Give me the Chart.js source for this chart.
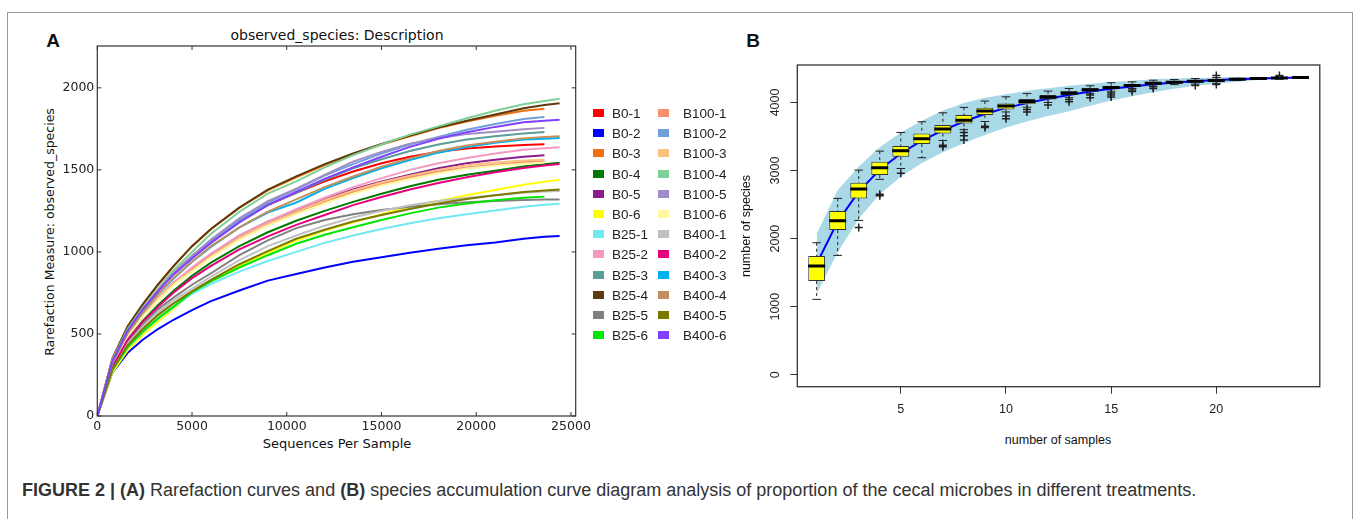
<!DOCTYPE html>
<html lang="en">
<head>
    <meta charset="UTF-8">
    <title>Rarefaction and species accumulation</title>
    <script src="https://cdn.jsdelivr.net/npm/chart.js"></script>
    <style>
        body { margin: 0; background: #fff; }
        .page { position: relative; width: 1358px; height: 519px; overflow: hidden; background: #fff; }
        .frame { position: absolute; left: 7px; top: 12px; width: 1344px; height: 520px; border: 1px solid #9a9a9a; }
        canvas { position: absolute; top: 0; }
        .txt { position: absolute; white-space: nowrap; color: #111; transform: translate(-50%, -50%); }
        .mpl { font-family: "DejaVu Sans", sans-serif; }
        .r { font-family: "Liberation Sans", Arial, sans-serif; }
        .panel { font-family: "Liberation Sans", Arial, sans-serif; font-weight: bold; font-size: 19px; }
        .legend { position: absolute; left: 0; top: 0; font-family: "Liberation Sans", Arial, sans-serif; font-size: 13.5px; color: #222; }
        .legend span.sw { position: absolute; width: 11px; height: 8px; }
        .legend span.lb { position: absolute; transform: translateY(-50%); white-space: nowrap; }
        .caption { position: absolute; left: 22px; top: 490px; transform: translateY(-50%);
                   font-family: "Liberation Sans", Arial, sans-serif; font-size: 18px; color: #333; white-space: nowrap; }
    </style>
</head>
<body>
<div class="page">
    <div class="frame"></div>

    <div class="txt panel" style="left:53px; top:41px;">A</div>
    <div class="txt mpl" style="left:337px; top:35px; font-size:14px;">observed_species: Description</div>
    <div class="txt mpl" style="left:337px; top:443px; font-size:13px;">Sequences Per Sample</div>
    <div class="txt mpl" style="left:49px; top:232px; font-size:12.5px; transform: translate(-50%,-50%) rotate(-90deg);">Rarefaction Measure: observed_species</div>
    <canvas id="chartA" width="740" height="460" style="left:0; width:740px; height:460px;"></canvas>
    <div class="legend" id="legendA"></div>

    <div class="txt panel" style="left:753px; top:41px;">B</div>
    <div class="txt r" style="left:1058px; top:440px; font-size:12.5px;">number of samples</div>
    <div class="txt r" style="left:746px; top:226px; font-size:12.5px; transform: translate(-50%,-50%) rotate(-90deg);">number of species</div>
    <canvas id="chartB" width="618" height="460" style="left:740px; width:618px; height:460px;"></canvas>

    <div class="caption"><b>FIGURE 2 | (A)</b> Rarefaction curves and <b>(B)</b> species accumulation curve diagram analysis of proportion of the cecal microbes in different treatments.</div>
</div>

<script>
// ---------- panel A: rarefaction curves ----------
const depthA = [0, 800, 1600, 2400, 3200, 4000, 5000, 6000, 7500, 9000, 10500, 12000, 13500, 15000, 16500, 18000, 19500, 21000, 22500, 23600, 24400];
const xTicksA = [0, 5000, 10000, 15000, 20000, 25000];
const yTicksA = [0, 500, 1000, 1500, 2000];

const sampleNames = ['B0-1', 'B0-2', 'B0-3', 'B0-4', 'B0-5', 'B0-6',
                     'B25-1', 'B25-2', 'B25-3', 'B25-4', 'B25-5', 'B25-6',
                     'B100-1', 'B100-2', 'B100-3', 'B100-4', 'B100-5', 'B100-6',
                     'B400-1', 'B400-2', 'B400-3', 'B400-4', 'B400-5', 'B400-6'];
const sampleColors = ['#ff0000', '#0000ff', '#f0700f', '#007a00', '#8b1a8b', '#ffff00',
                      '#70e8f2', '#f49ac2', '#5a9e9a', '#5e3a0c', '#808080', '#00e600',
                      '#f89070', '#70a0d8', '#fcc080', '#7fcf98', '#a08cc8', '#fff7a0',
                      '#c0c0c0', '#e6007e', '#00b0f0', '#c09060', '#7a7a00', '#8040ff'];

const b0_1   = [0, 330, 510, 640, 760, 865, 975, 1070, 1190, 1285, 1360, 1430, 1490, 1540, 1580, 1610, 1630, 1642, 1652, 1656, null];
const b0_2   = [0, 265, 385, 465, 530, 585, 645, 700, 765, 825, 865, 905, 940, 968, 995, 1020, 1040, 1058, 1080, 1092, 1097];
const b0_3   = [0, 352, 545, 680, 800, 910, 1035, 1140, 1270, 1375, 1455, 1530, 1595, 1655, 1705, 1755, 1795, 1830, 1860, 1872, null];
const b0_4   = [0, 300, 465, 580, 675, 760, 855, 935, 1035, 1120, 1190, 1250, 1305, 1355, 1400, 1440, 1470, 1495, 1520, 1535, 1544];
const b0_5   = [0, 310, 485, 610, 715, 810, 895, 985, 1100, 1185, 1250, 1320, 1380, 1430, 1470, 1510, 1540, 1562, 1580, 1589, null];
const b0_6   = [0, 265, 400, 495, 575, 650, 755, 825, 915, 995, 1070, 1130, 1180, 1230, 1275, 1310, 1345, 1378, 1410, 1428, 1440];
const b25_1  = [0, 280, 415, 510, 590, 660, 745, 805, 880, 945, 1000, 1055, 1100, 1140, 1175, 1205, 1230, 1252, 1275, 1287, 1294];
const b25_2  = [0, 315, 490, 615, 720, 810, 905, 990, 1100, 1185, 1260, 1330, 1395, 1450, 1500, 1540, 1572, 1600, 1622, 1632, 1638];
const b25_3  = [0, 335, 520, 650, 765, 865, 965, 1060, 1185, 1290, 1360, 1440, 1510, 1565, 1615, 1655, 1685, 1705, 1722, 1731, null];
const b25_4  = [0, 350, 545, 680, 800, 910, 1035, 1140, 1270, 1380, 1460, 1535, 1600, 1658, 1710, 1758, 1800, 1838, 1875, 1895, 1906];
const b25_5  = [0, 300, 450, 560, 650, 720, 800, 870, 980, 1070, 1145, 1195, 1230, 1255, 1275, 1290, 1302, 1310, 1316, 1319, 1320];
const b25_6  = [0, 280, 420, 515, 595, 665, 755, 820, 905, 980, 1050, 1105, 1150, 1195, 1235, 1270, 1295, 1315, 1330, 1337, null];
const b100_1 = [0, 315, 490, 610, 710, 800, 890, 975, 1085, 1170, 1240, 1305, 1365, 1415, 1455, 1490, 1515, 1532, 1546, 1552, null];
const b100_2 = [0, 335, 520, 650, 765, 870, 970, 1070, 1195, 1300, 1380, 1465, 1535, 1600, 1655, 1700, 1745, 1780, 1810, 1823, null];
const b100_3 = [0, 315, 492, 615, 715, 805, 890, 975, 1085, 1170, 1245, 1315, 1375, 1425, 1465, 1500, 1528, 1545, 1557, 1562, null];
const b100_4 = [0, 345, 530, 660, 775, 885, 1000, 1110, 1245, 1355, 1430, 1515, 1590, 1655, 1715, 1765, 1815, 1860, 1900, 1920, 1933];
const b100_5 = [0, 335, 520, 650, 765, 870, 975, 1075, 1205, 1310, 1385, 1470, 1550, 1610, 1660, 1695, 1718, 1733, 1748, 1756, null];
const b100_6 = [0, 310, 485, 605, 705, 795, 880, 965, 1075, 1160, 1230, 1295, 1355, 1405, 1445, 1480, 1508, 1525, 1538, 1545, null];
const b400_1 = [0, 290, 440, 545, 630, 705, 775, 850, 950, 1035, 1100, 1160, 1210, 1250, 1285, 1310, 1330, 1345, 1360, 1368, 1372];
const b400_2 = [0, 300, 465, 575, 665, 750, 840, 915, 1015, 1095, 1165, 1225, 1285, 1335, 1380, 1420, 1455, 1485, 1512, 1527, 1536];
const b400_3 = [0, 325, 505, 630, 740, 835, 940, 1030, 1150, 1240, 1300, 1385, 1450, 1510, 1560, 1605, 1640, 1665, 1685, 1690, 1695];
const b400_4 = [0, 325, 505, 630, 740, 840, 940, 1035, 1150, 1245, 1320, 1395, 1460, 1520, 1570, 1615, 1648, 1672, 1692, 1700, 1705];
const b400_5 = [0, 285, 430, 530, 615, 685, 760, 830, 925, 1005, 1080, 1135, 1185, 1225, 1262, 1295, 1322, 1345, 1365, 1375, 1381];
const b400_6 = [0, 335, 520, 650, 760, 860, 960, 1055, 1180, 1285, 1365, 1445, 1515, 1580, 1640, 1690, 1730, 1762, 1790, 1800, 1806];

const seriesA = [b0_1, b0_2, b0_3, b0_4, b0_5, b0_6, b25_1, b25_2, b25_3, b25_4, b25_5, b25_6,
                 b100_1, b100_2, b100_3, b100_4, b100_5, b100_6, b400_1, b400_2, b400_3, b400_4, b400_5, b400_6];

// ---------- panel B: species accumulation ----------
const nSamples   = [1, 2, 3, 4, 5, 6, 7, 8, 9, 10, 11, 12, 13, 14, 15, 16, 17, 18, 19, 20, 21, 22, 23, 24];
const accMean    = [1630, 2250, 2690, 3010, 3250, 3440, 3590, 3720, 3830, 3920, 3990, 4055, 4110, 4160, 4200, 4235, 4268, 4292, 4312, 4328, 4342, 4352, 4360, 4366];
const bandLow    = [1190, 1800, 2290, 2650, 2910, 3110, 3270, 3400, 3520, 3630, 3720, 3800, 3870, 3950, 4030, 4090, 4150, 4200, 4245, 4275, 4305, 4330, 4350, 4366];
const bandHigh   = [2070, 2710, 3060, 3340, 3560, 3730, 3880, 3990, 4070, 4120, 4170, 4210, 4245, 4275, 4300, 4320, 4340, 4352, 4360, 4368, 4372, 4370, 4368, 4366];
const boxQ1      = [1376, 2125, 2590, 2933, 3202, 3388, 3545, 3692, 3814, 3897, 3975, 4044, 4108, 4162, 4196, 4230, 4264, 4279, 4292, 4308, 4335, 4348, 4354, 4366];
const boxMedian  = [1596, 2262, 2727, 3040, 3290, 3466, 3608, 3740, 3873, 3946, 4015, 4078, 4137, 4186, 4220, 4250, 4283, 4296, 4310, 4322, 4342, 4352, 4358, 4366];
const boxQ3      = [1743, 2404, 2820, 3128, 3359, 3545, 3667, 3814, 3922, 3985, 4049, 4108, 4166, 4210, 4240, 4269, 4303, 4318, 4327, 4337, 4348, 4356, 4362, 4366];
const whiskerLow = [1107, 1753, 2267, 2870, 3030, 3187, 3440, 3600, 3720, 3860, 3930, 4000, 4070, 4130, 4165, 4205, 4240, 4262, 4270, 4280, 4325, 4345, 4340, 4366];
const whiskerHigh= [1939, 2590, 3006, 3285, 3559, 3716, 3848, 3927, 4020, 4083, 4132, 4166, 4205, 4245, 4290, 4303, 4327, 4337, 4352, 4365, 4355, 4360, 4380, 4366];
const outlierPts = [[3, 2164], [4, 2650], [4, 2630], [5, 2960], [7, 3370], [7, 3349], [8, 3560], [8, 3510], [8, 3450],
                    [9, 3650], [9, 3630], [10, 3800], [10, 3760], [11, 3897], [11, 3860], [12, 3961],
                    [13, 4044], [13, 4010], [14, 4108], [14, 4070], [15, 4140], [15, 4110], [15, 4080],
                    [16, 4181], [16, 4160], [17, 4230], [17, 4205], [19, 4250], [20, 4395], [20, 4262], [23, 4395]];
const xTicksB = [5, 10, 15, 20];
const yTicksB = [0, 1000, 2000, 3000, 4000];

// ---------- legend A ----------
const legend = document.getElementById('legendA');
sampleNames.forEach((name, i) => {
    const col = Math.floor(i / 12), row = i % 12;
    const y = 113 + row * 20.2;
    const sw = document.createElement('span');
    sw.className = 'sw';
    sw.style.left = (593 + col * 65) + 'px';
    sw.style.top = (y - 4) + 'px';
    sw.style.background = sampleColors[i];
    const lb = document.createElement('span');
    lb.className = 'lb';
    lb.style.left = (612 + col * 71) + 'px';
    lb.style.top = y + 'px';
    lb.textContent = name;
    legend.appendChild(sw);
    legend.appendChild(lb);
});

// inward ticks on all four sides, plus the box
const mplFrame = {
    id: 'mplFrame',
    afterDraw(chart) {
        const { ctx, chartArea: a, scales } = chart;
        ctx.save();
        ctx.strokeStyle = '#333';
        ctx.lineWidth = 1.2;
        ctx.strokeRect(a.left, a.top, a.right - a.left, a.bottom - a.top);
        ctx.lineWidth = 1;
        ctx.beginPath();
        xTicksA.forEach(v => {
            const px = scales.x.getPixelForValue(v);
            ctx.moveTo(px, a.bottom); ctx.lineTo(px, a.bottom - 4);
            ctx.moveTo(px, a.top); ctx.lineTo(px, a.top + 4);
        });
        yTicksA.forEach(v => {
            const py = scales.y.getPixelForValue(v);
            ctx.moveTo(a.left, py); ctx.lineTo(a.left + 4, py);
            ctx.moveTo(a.right, py); ctx.lineTo(a.right - 4, py);
        });
        ctx.stroke();
        ctx.restore();
    }
};

new Chart(document.getElementById('chartA'), {
    type: 'line',
    data: {
        datasets: seriesA.map((vals, i) => ({
            label: sampleNames[i],
            data: depthA.map((d, j) => ({ x: d, y: vals[j] })),
            borderColor: sampleColors[i],
            borderWidth: 2,
            pointRadius: 0,
            tension: 0,
            fill: false,
            order: seriesA.length - i
        }))
    },
    options: {
        responsive: false,
        animation: false,
        layout: { padding: { left: 0, top: 46, right: 164.3, bottom: 0 } },
        plugins: { legend: { display: false }, tooltip: { enabled: false } },
        scales: {
            x: {
                type: 'linear', min: 0, max: 25250,
                afterBuildTicks: s => { s.ticks = xTicksA.map(v => ({ value: v })); },
                afterFit: s => { s.height = 44; },
                grid: { display: false }, border: { display: false },
                ticks: { color: '#222', padding: -5, maxRotation: 0, callback: v => String(v),
                         font: { family: 'DejaVu Sans', size: 12.5 } }
            },
            y: {
                type: 'linear', min: 0, max: 2255,
                afterBuildTicks: s => { s.ticks = yTicksA.map(v => ({ value: v })); },
                afterFit: s => { s.width = 97.3; },
                grid: { display: false }, border: { display: false },
                ticks: { color: '#222', padding: -5, callback: v => String(v),
                         font: { family: 'DejaVu Sans', size: 12.5 } }
            }
        }
    },
    plugins: [mplFrame]
});

// R style box and rotated y labels
const rFrame = {
    id: 'rFrame',
    afterDraw(chart) {
        const { ctx, chartArea: a, scales } = chart;
        ctx.save();
        ctx.strokeStyle = '#333';
        ctx.lineWidth = 1.3;
        ctx.strokeRect(a.left, a.top, a.right - a.left, a.bottom - a.top);
        ctx.fillStyle = '#222';
        ctx.font = '12.5px "Liberation Sans", Arial, sans-serif';
        ctx.textAlign = 'center';
        ctx.textBaseline = 'middle';
        yTicksB.forEach(v => {
            const py = scales.y.getPixelForValue(v);
            ctx.save();
            ctx.translate(a.left - 22, py);
            ctx.rotate(-Math.PI / 2);
            ctx.fillText(String(v), 0, 0);
            ctx.restore();
        });
        ctx.restore();
    }
};

const whiskerData = [];
nSamples.forEach((k, i) => {
    whiskerData.push({ x: k, y: whiskerHigh[i] }, { x: k, y: boxQ3[i] }, { x: k, y: null });
    whiskerData.push({ x: k, y: boxQ1[i] }, { x: k, y: whiskerLow[i] }, { x: k, y: null });
});
const stapleData = [];
nSamples.forEach((k, i) => {
    stapleData.push({ x: k, y: whiskerHigh[i] }, { x: k, y: whiskerLow[i] });
});

new Chart(document.getElementById('chartB'), {
    type: 'bar',
    data: {
        datasets: [
            {
                type: 'line', label: 'upper',
                data: nSamples.map((k, i) => ({ x: k, y: bandHigh[i] })),
                borderWidth: 0, pointRadius: 0, tension: 0,
                fill: '+1', backgroundColor: '#a9d9e7', order: 20
            },
            {
                type: 'line', label: 'lower',
                data: nSamples.map((k, i) => ({ x: k, y: bandLow[i] })),
                borderWidth: 0, pointRadius: 0, tension: 0, fill: false, order: 19
            },
            {
                type: 'line', label: 'mean',
                data: nSamples.map((k, i) => ({ x: k, y: accMean[i] })),
                borderColor: '#0000ff', borderWidth: 2, pointRadius: 0, tension: 0, fill: false, order: 18
            },
            {
                type: 'line', label: 'whiskers',
                data: whiskerData,
                borderColor: '#222', borderWidth: 1, borderDash: [3, 3],
                pointRadius: 0, spanGaps: false, fill: false, order: 17
            },
            {
                type: 'bar', label: 'boxes',
                data: nSamples.map((k, i) => ({ x: k, y: [boxQ1[i], boxQ3[i]] })),
                backgroundColor: '#ffff00', borderColor: '#333', borderWidth: 1,
                borderSkipped: false, barPercentage: 0.8, categoryPercentage: 1, grouped: false, order: 16
            },
            {
                type: 'scatter', label: 'staples',
                data: stapleData,
                pointStyle: 'line', pointRadius: 4.3, borderColor: '#222', borderWidth: 1, order: 15
            },
            {
                type: 'scatter', label: 'median',
                data: nSamples.map((k, i) => ({ x: k, y: boxMedian[i] })),
                pointStyle: 'line', pointRadius: 8.5, borderColor: '#000', borderWidth: 3, order: 14
            },
            {
                type: 'scatter', label: 'outliers',
                data: outlierPts.map(p => ({ x: p[0], y: p[1] })),
                pointStyle: 'cross', pointRadius: 4, borderColor: '#222', borderWidth: 1.5, order: 13
            }
        ]
    },
    options: {
        responsive: false,
        animation: false,
        layout: { padding: { left: 0, top: 65, right: 38.2, bottom: 0 } },
        plugins: { legend: { display: false }, tooltip: { enabled: false } },
        scales: {
            x: {
                type: 'linear', min: 0.08, max: 24.92, offset: false,
                afterBuildTicks: s => { s.ticks = xTicksB.map(v => ({ value: v })); },
                afterFit: s => { s.height = 73.3; },
                grid: { display: true, offset: false, drawOnChartArea: false, drawTicks: true, tickLength: 7, color: '#333' },
                border: { display: false },
                ticks: { color: '#222', padding: 8, maxRotation: 0, callback: v => String(v),
                         font: { family: 'Liberation Sans', size: 12.5 } }
            },
            y: {
                type: 'linear', min: -176, max: 4550,
                afterBuildTicks: s => { s.ticks = yTicksB.map(v => ({ value: v })); },
                afterFit: s => { s.width = 57.3; },
                grid: { display: true, drawOnChartArea: false, drawTicks: true, tickLength: 7, color: '#333' },
                border: { display: false },
                ticks: { display: false }
            }
        }
    },
    plugins: [rFrame]
});
</script>
</body>
</html>
